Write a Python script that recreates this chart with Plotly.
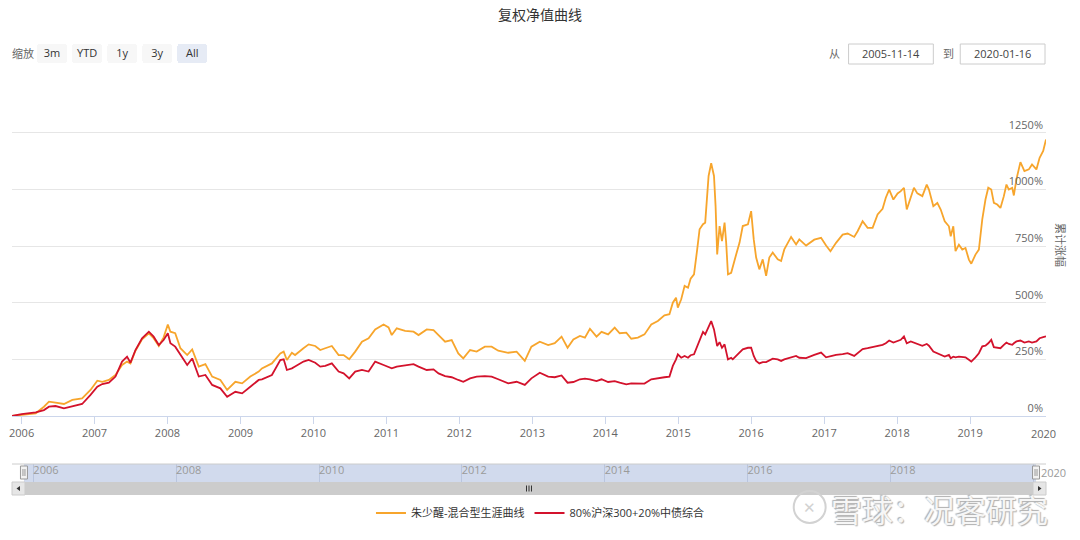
import plotly.graph_objects as go

# ---------------- data ----------------
dates = [
    "2005-11-14", "2006-01-01", "2006-03-13", "2006-04-23", "2006-05-18", "2006-06-20", "2006-08-01",
    "2006-09-12", "2006-10-31", "2006-12-12", "2007-01-15", "2007-02-09", "2007-03-14", "2007-04-16",
    "2007-05-19", "2007-06-13", "2007-06-30", "2007-07-25", "2007-08-27", "2007-09-30", "2007-10-24",
    "2007-11-19", "2007-12-13", "2008-01-03", "2008-01-16", "2008-02-09", "2008-03-06", "2008-04-09",
    "2008-05-04", "2008-06-06", "2008-07-09", "2008-08-12", "2008-09-22", "2008-10-26", "2008-12-06",
    "2009-01-09", "2009-02-19", "2009-04-02", "2009-04-18", "2009-06-07", "2009-07-19", "2009-08-05",
    "2009-08-21", "2009-09-15", "2009-10-01", "2009-11-12", "2009-12-08", "2010-01-10", "2010-02-04",
    "2010-03-01", "2010-04-03", "2010-05-07", "2010-06-01", "2010-06-29", "2010-07-29", "2010-09-01",
    "2010-10-04", "2010-11-06", "2010-12-18", "2011-01-12", "2011-01-28", "2011-02-22", "2011-04-05",
    "2011-05-17", "2011-06-11", "2011-07-22", "2011-08-25", "2011-09-19", "2011-10-22", "2011-11-24",
    "2011-12-27", "2012-01-21", "2012-02-24", "2012-03-28", "2012-05-08", "2012-06-11", "2012-07-14",
    "2012-09-02", "2012-10-14", "2012-11-24", "2012-12-27", "2013-02-07", "2013-03-21", "2013-04-23",
    "2013-05-27", "2013-06-26", "2013-07-25", "2013-08-27", "2013-09-21", "2013-10-16", "2013-11-18",
    "2013-12-13", "2014-01-15", "2014-02-17", "2014-03-14", "2014-04-16", "2014-05-11", "2014-06-13",
    "2014-07-16", "2014-08-19", "2014-09-21", "2014-10-24", "2014-11-18", "2014-12-05", "2014-12-21",
    "2014-12-30", "2015-01-16", "2015-02-02", "2015-02-19", "2015-03-04", "2015-03-21", "2015-04-06",
    "2015-04-18", "2015-05-05", "2015-05-16", "2015-06-02", "2015-06-15", "2015-06-29", "2015-07-07",
    "2015-07-15", "2015-07-27", "2015-08-08", "2015-08-21", "2015-08-29", "2015-09-07", "2015-09-23",
    "2015-10-01", "2015-10-18", "2015-11-04", "2015-11-20", "2015-12-16", "2016-01-01", "2016-01-14",
    "2016-01-26", "2016-02-11", "2016-02-28", "2016-03-16", "2016-04-01", "2016-04-18", "2016-05-13",
    "2016-05-30", "2016-06-15", "2016-07-19", "2016-08-13", "2016-08-29", "2016-10-02", "2016-11-12",
    "2016-12-16", "2017-01-10", "2017-02-01", "2017-03-01", "2017-04-03", "2017-04-28", "2017-05-31",
    "2017-06-17", "2017-07-12", "2017-08-06", "2017-08-31", "2017-09-25", "2017-10-20", "2017-11-05",
    "2017-11-22", "2017-12-13", "2018-01-03", "2018-01-19", "2018-02-04", "2018-02-18", "2018-03-10",
    "2018-03-26", "2018-04-12", "2018-05-07", "2018-05-29", "2018-06-09", "2018-07-01", "2018-07-21",
    "2018-08-07", "2018-08-27", "2018-09-17", "2018-09-26", "2018-10-09", "2018-10-20", "2018-11-06",
    "2018-11-23", "2018-12-09", "2018-12-26", "2019-01-07", "2019-01-28", "2019-02-14", "2019-03-03",
    "2019-03-19", "2019-04-02", "2019-04-17", "2019-04-30", "2019-05-17", "2019-06-02", "2019-06-19",
    "2019-07-02", "2019-07-14", "2019-07-31", "2019-08-08", "2019-08-21", "2019-09-10", "2019-09-30",
    "2019-10-22", "2019-11-07", "2019-11-29", "2019-12-15", "2020-01-02", "2020-01-16",
]

fund_pct = [
    0, 4, 12, 41, 63, 59, 53, 71, 78, 115, 156, 151, 159, 181, 225, 240, 232, 288, 338, 365, 343,
    309, 347, 404, 372, 365, 299, 269, 294, 218, 229, 174, 159, 115, 151, 144, 174, 196, 210, 232,
    276, 284, 247, 279, 269, 299, 316, 309, 291, 299, 309, 269, 269, 250, 284, 328, 343, 382, 404,
    391, 357, 387, 376, 372, 357, 382, 379, 357, 328, 335, 276, 254, 291, 284, 306, 306, 288, 279,
    284, 243, 306, 328, 313, 321, 350, 301, 338, 353, 346, 385, 350, 371, 360, 390, 365, 368, 341,
    346, 360, 404, 419, 444, 449, 500, 522, 478, 515, 574, 566, 606, 625, 735, 824, 846, 853, 1059,
    1115, 1059, 926, 713, 838, 772, 853, 765, 625, 632, 662, 713, 765, 838, 846, 904, 779, 699, 647,
    691, 618, 699, 721, 691, 684, 735, 790, 757, 779, 752, 778, 786, 752, 727, 764, 800, 805, 790,
    815, 859, 830, 830, 889, 914, 963, 999, 955, 982, 992, 1007, 911, 970, 1007, 982, 970, 1021, 999,
    926, 940, 911, 859, 837, 793, 837, 727, 756, 734, 741, 690, 672, 712, 734, 867, 955, 1007, 999,
    940, 933, 918, 970, 1021, 999, 1007, 973, 1044, 1120, 1080, 1088, 1110, 1088, 1139, 1169, 1220,
]

bench_pct = [
    0, 8, 16, 26, 41, 44, 34, 44, 53, 93, 129, 141, 147, 174, 240, 262, 235, 291, 343, 372, 350,
    313, 335, 365, 321, 306, 269, 225, 254, 174, 181, 137, 122, 85, 107, 100, 129, 159, 162, 181,
    247, 250, 203, 210, 218, 240, 247, 235, 218, 221, 232, 196, 188, 166, 196, 203, 196, 240, 225,
    215, 210, 218, 225, 229, 218, 203, 206, 188, 176, 171, 159, 151, 166, 174, 176, 174, 162, 144,
    151, 137, 166, 191, 174, 171, 179, 147, 150, 162, 165, 162, 154, 162, 150, 154, 147, 140, 144,
    143, 143, 162, 165, 171, 174, 221, 250, 272, 257, 265, 257, 268, 272, 309, 338, 371, 360, 397,
    419, 382, 338, 309, 326, 301, 316, 279, 250, 257, 250, 265, 279, 294, 301, 301, 265, 243, 232,
    238, 238, 247, 253, 250, 243, 250, 257, 265, 257, 255, 270, 280, 259, 265, 270, 273, 277, 265,
    277, 295, 299, 304, 310, 314, 321, 333, 324, 329, 336, 351, 321, 329, 324, 318, 310, 318, 310,
    284, 277, 270, 262, 270, 255, 262, 259, 262, 259, 259, 248, 240, 259, 277, 307, 310, 321, 336,
    304, 302, 299, 314, 324, 318, 314, 321, 329, 333, 324, 329, 324, 329, 343, 348, 351,
]

series_names = ["朱少醒-混合型生涯曲线", "80%沪深300+20%中债综合"]
series_colors = ["#f7a52c", "#d3122c"]

year_ticks = [str(y) for y in range(2006, 2021)]
nav_ticks = [str(y) for y in range(2006, 2021, 2)]
y_ticks = [0, 250, 500, 750, 1000, 1250, 1500]
y_ticktext = ["0%", "250%", "500%", "750%", "1000%", "1250%", ""]
start_label, end_label = dates[0], dates[-1]

# ---------------- geometry helpers (pixel -> paper) ----------------
L, R, T, B = 9, 1046, 76, 492
def px(x):
    return (x - L) / (R - L)
def py(y):
    return (B - y) / (B - T)

FONT = "Open Sans, Noto Sans CJK SC, sans-serif"

fig = go.Figure()
for vals, name, col in zip([fund_pct, bench_pct], series_names, series_colors):
    fig.add_trace(go.Scatter(
        x=dates, y=vals, name=name, mode="lines",
        line=dict(color=col, width=1.8),
        hovertemplate="%{x|%Y-%m-%d}<br>%{y}%<extra>" + name + "</extra>",
    ))

# helper trace so the navigator axis exists (invisible)
fig.add_trace(go.Scatter(
    x=[dates[0], dates[-1]], y=[0, 0], xaxis="x2", yaxis="y2", mode="lines",
    line=dict(width=0, color="rgba(0,0,0,0)"), hoverinfo="skip", showlegend=False,
))

shapes = []
shapes.append(dict(type="rect", xref="x2 domain", yref="y2 domain", x0=0, x1=1, y0=0, y1=1,
                   fillcolor="rgba(102,133,194,0.3)", line=dict(width=0), layer="below"))
shapes.append(dict(type="line", xref="paper", yref="paper", x0=px(9), x1=px(1046), y0=py(464), y1=py(464),
                   line=dict(color="#cccccc", width=1)))
shapes.append(dict(type="rect", xref="paper", yref="paper", x0=px(9), x1=px(1046), y0=py(495), y1=py(482),
                   fillcolor="#f2f2f2", line=dict(width=0)))
shapes.append(dict(type="rect", xref="paper", yref="paper", x0=px(22), x1=px(1033), y0=py(495), y1=py(482),
                   fillcolor="#cccccc", line=dict(width=0)))
shapes.append(dict(type="rect", xref="paper", yref="paper", x0=px(9), x1=px(22), y0=py(495), y1=py(482),
                   fillcolor="#e6e6e6", line=dict(color="#cccccc", width=1)))
shapes.append(dict(type="rect", xref="paper", yref="paper", x0=px(1033), x1=px(1046), y0=py(495), y1=py(482),
                   fillcolor="#e6e6e6", line=dict(color="#cccccc", width=1)))
# scrollbar arrows as small triangles
def tri(pts):
    return "M " + " L ".join(f"{px(a)},{py(b)}" for a, b in pts) + " Z"
shapes.append(dict(type="path", xref="paper", yref="paper", path=tri([(13.5, 488.5), (17, 486), (17, 491)]),
                   fillcolor="#333333", line=dict(width=0)))
shapes.append(dict(type="path", xref="paper", yref="paper", path=tri([(1041.5, 488.5), (1038, 486), (1038, 491)]),
                   fillcolor="#333333", line=dict(width=0)))
for rx in (525, 527.5, 530):
    shapes.append(dict(type="line", xref="paper", yref="paper", x0=px(rx), x1=px(rx), y0=py(491.5), y1=py(485.5),
                       line=dict(color="#333333", width=1)))
for x0, x1 in [(848, 933), (960, 1045)]:
    shapes.append(dict(type="rect", xref="paper", yref="paper", x0=px(x0), x1=px(x1), y0=py(64), y1=py(44),
                       fillcolor="white", line=dict(color="#cccccc", width=1)))
shapes.append(dict(type="circle", xref="paper", yref="paper", x0=px(793), x1=px(825), y0=py(523), y1=py(491),
                   line=dict(color="#d2d2d2", width=2), fillcolor="rgba(0,0,0,0)"))

def ann(text, x, y, size=11, color="#666666", xa="center", **kw):
    d = dict(text=text, x=px(x), y=py(y), xref="paper", yref="paper", showarrow=False,
             xanchor=xa, yanchor="middle", font=dict(size=size, color=color, family=FONT))
    d.update(kw)
    return d

annotations = [
    ann("缩放", 20, 53),
    ann("从", 834, 53),
    ann("到", 948, 53),
    ann(start_label, 890.5, 54, color="#444444"),
    ann(end_label, 1002.5, 54, color="#444444"),
    ann("累计涨幅", 1061, 245, textangle=90),
    ann("✕", 809, 507, size=15, color="#d2d2d2"),
    # last year labels (Plotly hides edge labels when the y labels sit inside the plot)
    dict(text=year_ticks[-1], x=year_ticks[-1] + "-01-01", xref="x", y=py(433), yref="paper",
         showarrow=False, xanchor="center", yanchor="middle", font=dict(size=11, color="#666666", family=FONT)),
    ann(nav_ticks[-1], 1039, 472, color="#9a9a9a", xa="left"),
]
wm = ann("雪球：况客研究", 1050, 508, size=31, xa="right")
wm["font"] = dict(size=31, color="#f6f6f6", family="Noto Sans CJK SC",
                  shadow="1px 1px 1px #b0b0b0, -1px -1px 1px #b0b0b0")
annotations.append(wm)

# navigator handles drawn last so they sit on top
for anchor in [0, 1]:
    shapes.append(dict(type="rect", xref="x2 domain", yref="paper", xsizemode="pixel", xanchor=anchor,
                       x0=-3.5, x1=3.5, y0=py(479), y1=py(466),
                       fillcolor="#f2f2f2", line=dict(color="#999999", width=1)))
    for dx in (-1, 1):
        shapes.append(dict(type="line", xref="x2 domain", yref="paper", xsizemode="pixel", xanchor=anchor,
                           x0=dx, x1=dx, y0=py(476), y1=py(469), line=dict(color="#999999", width=1)))

fig.update_layout(
    width=1080, height=540,
    margin=dict(l=L, r=1080 - R, t=T, b=540 - B, pad=0),
    paper_bgcolor="white", plot_bgcolor="white",
    font=dict(family=FONT, size=11, color="#333333"),
    title=dict(text="复权净值曲线", x=0.5, xref="container", y=1 - 15 / 540, yref="container",
               xanchor="center", yanchor="middle", font=dict(size=14, color="#333333", family=FONT)),
    xaxis=dict(
        type="date", domain=[0, 1], anchor="y", autorange=True,
        autorangeoptions=dict(clipmin=dates[0], clipmax=dates[-1]),
        tickvals=[y + "-01-01" for y in year_ticks], ticktext=year_ticks,
        ticks="outside", ticklen=7, tickcolor="#ccd6eb", showline=True, linecolor="#ccd6eb",
        showgrid=False, zeroline=False, tickfont=dict(size=11, color="#666666"),
        rangeselector=dict(
            buttons=[
                dict(count=3, label="3m", step="month", stepmode="backward"),
                dict(label="YTD", step="year", stepmode="todate"),
                dict(count=1, label="1y", step="year", stepmode="backward"),
                dict(count=3, label="3y", step="year", stepmode="backward"),
                dict(label="All", step="all"),
            ],
            x=px(34), y=py(63), xanchor="left", yanchor="bottom",
            bgcolor="#f7f7f7", activecolor="#e6ebf5", bordercolor="#f7f7f7", borderwidth=0,
            font=dict(size=11, color="#333333"),
        ),
    ),
    yaxis=dict(
        domain=[py(416), 1], anchor="x", side="right", range=[0, 1500],
        tickvals=y_ticks, ticktext=y_ticktext, ticklabelposition="inside top",
        gridcolor="#e6e6e6", gridwidth=1, zeroline=False, showline=False, ticks="",
        tickfont=dict(size=11, color="#666666"), fixedrange=True,
    ),
    xaxis2=dict(
        type="date", domain=[px(21), px(1036)], anchor="y2", range=[dates[0], dates[-1]],
        tickvals=[y + "-01-01" for y in nav_ticks], ticktext=nav_ticks,
        ticklabelposition="inside right", ticks="", showgrid=True, gridcolor="#b9c5de",
        showline=False, zeroline=False, tickfont=dict(size=11, color="#9a9a9a"), fixedrange=True,
    ),
    yaxis2=dict(domain=[py(482), py(464)], anchor="x2", range=[0, 1], showgrid=False,
                showticklabels=False, zeroline=False, fixedrange=True),
    legend=dict(orientation="h", x=px(539), y=py(513), xanchor="center", yanchor="middle",
                font=dict(size=11, color="#333333", family=FONT), bgcolor="rgba(0,0,0,0)"),
    shapes=shapes,
    annotations=annotations,
    hovermode="x unified",
)

fig.write_html("out.html", config={"displayModeBar": False},
               post_script="document.body.style.margin='0';")
